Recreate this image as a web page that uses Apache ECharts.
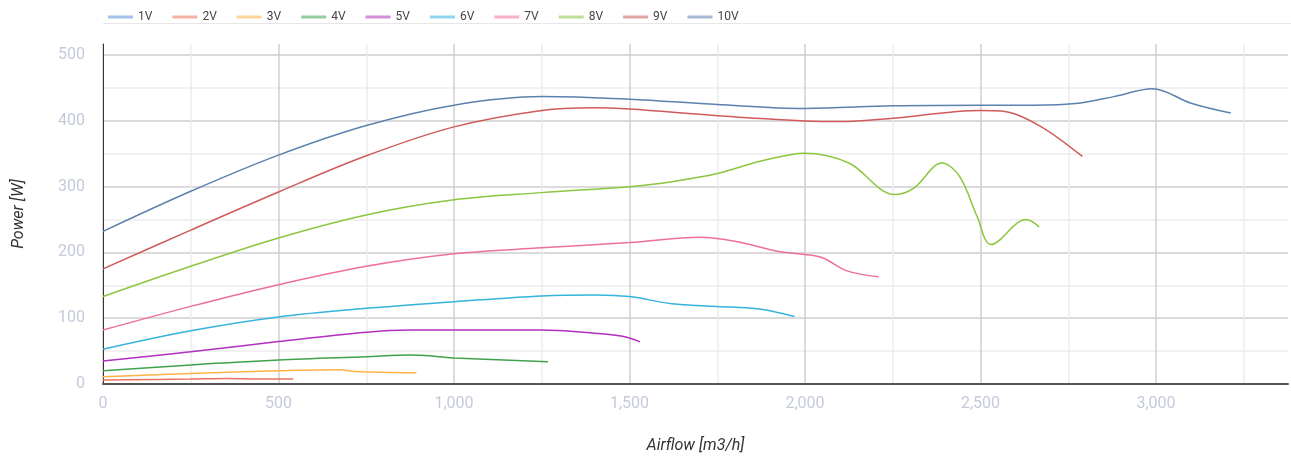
<!DOCTYPE html>
<html>
<head>
<meta charset="utf-8">
<script src="https://cdn.jsdelivr.net/npm/echarts@6/dist/echarts.min.js"></script>
<style>
html,body{margin:0;padding:0;background:#fff;}
#chart{width:1291px;height:459px;}
</style>
</head>
<body>
<div id="chart"></div>
<script>
// Series names (legend order)
const seriesNames = ['1V','2V','3V','4V','5V','6V','7V','8V','9V','10V'];

// [airflow m3/h, power W]
const v1 = [];
const v2 = [[0,6],[250,7.5],[350,8.5],[450,7.6],[542,7.6]];
const v3 = [[0,11],[250,16],[500,20],[675,21.5],[720,19],[893,17]];
const v4 = [[0,20],[250,29],[500,36.5],[750,41.5],[875,44],[950,42],[1000,39.5],[1268,34]];
const v5 = [[0,35],[250,49],[500,64.5],[750,78.7],[875,82],[1000,82],[1250,82],[1360,79],[1480,72.5],[1530,64]];
const v6 = [[0,53],[250,81],[500,102],[750,115],[1000,125],[1250,134],[1400,135.5],[1500,133],[1620,122],[1750,118],[1870,114],[1970,102.5]];
const v7 = [[0,82],[250,118],[500,151],[750,179],[1000,198],[1250,207],[1500,215],[1700,223],[1800,217],[1920,202],[2000,197],[2050,192],[2120,172],[2210,163]];
const v8 = [[0,133],[250,179],[500,222],[750,257],[1000,280],[1250,291],[1500,300],[1625,308],[1750,320],[1875,339],[2000,351],[2125,336],[2255,288],[2310,298],[2390,336],[2440,316],[2490,255],[2530,212],[2630,250],[2667,239]];
const v9 = [[0,175],[250,234],[500,292],[750,347],[1000,391],[1250,416],[1400,420],[1500,418],[1750,408],[2000,400],[2100,399],[2250,404],[2500,416],[2560,415],[2667,393],[2790,346]];
const v10 = [[0,232],[250,293],[500,348],[750,393],[1000,424],[1250,437],[1500,433],[1750,425],[2000,419],[2250,423],[2500,424],[2650,424],[2780,427],[2880,437],[2990,449],[3100,427],[3213,412]];

const seriesData = [v1,v2,v3,v4,v5,v6,v7,v8,v9,v10];
const lineColors = ['#5b8fe0','#e8735a','#ffb347','#3fa34d','#b22fc0','#35b3dc','#ee6f9a','#8cc63e','#d05a5a','#5b82ad'];

// axis settings
const xMax = 3376, xStep = 250, xLabelStep = 500;
const yMax = 517, yStep = 50, yLabelStep = 100;

const majorC = '#cfcfcf', minorC = '#ececec';
function gridColors(n){ const a=[]; for(let i=0;i<n;i++) a.push(i%2===0?majorC:minorC); return a; }

const chart = echarts.init(document.getElementById('chart'), null, {renderer:'canvas'});
chart.setOption({
  animation:false,
  color: lineColors,
  textStyle:{fontFamily:'Roboto, "Noto Sans", sans-serif'},
  legend:{
    left:103, top:6,
    icon:'rect', itemWidth:25, itemHeight:3, itemGap:20,
    itemStyle:{opacity:0.55},
    textStyle:{fontSize:12, color:'#444', fontFamily:'Roboto'},
    data: seriesNames
  },
  graphic:[{type:'line', shape:{x1:103,y1:23.5,x2:1291,y2:23.5}, style:{stroke:'#e6e6e6', lineWidth:1}, silent:true}],
  grid:{left:103, right:2, top:44, bottom:75, containLabel:false},
  xAxis:{
    type:'value', min:0, max:xMax, interval:xStep,
    name:'Airflow [m3/h]', nameLocation:'middle', nameGap:54,
    nameTextStyle:{fontSize:16, fontStyle:'italic', color:'#333'},
    axisLine:{show:true, lineStyle:{color:'#555', width:2}},
    axisTick:{show:false},
    axisLabel:{margin:12, fontSize:16, color:'#c5cadb',
      formatter:v=> (v % xLabelStep === 0) ? v.toLocaleString('en-US') : ''},
    splitLine:{show:true, showMaxLine:false, lineStyle:{color:gridColors(40), width:1.5}}
  },
  yAxis:{
    type:'value', min:0, max:yMax, interval:yStep,
    name:'Power [W]', nameLocation:'middle', nameGap:76,
    nameTextStyle:{fontSize:16, fontStyle:'italic', color:'#333'},
    axisLine:{show:true, lineStyle:{color:'#333', width:1}},
    axisTick:{show:false},
    axisLabel:{margin:18, fontSize:16, color:'#c5cadb',
      formatter:v=> (v % yLabelStep === 0) ? String(v) : ''},
    splitLine:{show:true, showMaxLine:false, lineStyle:{color:gridColors(40), width:1.5}}
  },
  series: seriesNames.map((n,i)=>({
    name:n, type:'line', data:seriesData[i],
    smooth:0.35, showSymbol:false, symbol:'none',
    lineStyle:{width:1.5, color:lineColors[i]},
    itemStyle:{color:lineColors[i]}
  }))
});
</script>
</body>
</html>
